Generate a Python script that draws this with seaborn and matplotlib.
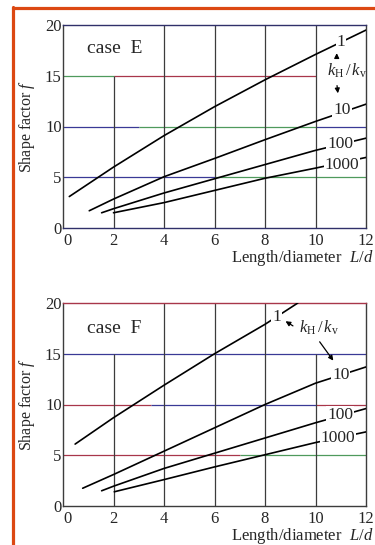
import numpy as np
import pandas as pd
import matplotlib
matplotlib.use("Agg")
import matplotlib.pyplot as plt
from matplotlib.lines import Line2D
import seaborn as sns

# ---------------- data ----------------
ratios = ["1", "10", "100", "1000"]

# case E
e1_x = [0.25, 2, 4, 6, 8, 10, 12]
e1_y = [3.1, 6.0, 9.1, 11.95, 14.6, 17.1, 19.5]
e10_x = [1.04, 2, 4, 6, 8, 10, 12]
e10_y = [1.7, 2.85, 5.05, 6.85, 8.7, 10.5, 12.2]
e100_x = [1.53, 2, 4, 6, 8, 10, 12]
e100_y = [1.5, 1.9, 3.45, 4.85, 6.25, 7.65, 8.85]
e1000_x = [2.0, 4, 6, 8, 10, 12]
e1000_y = [1.5, 2.5, 3.7, 4.9, 5.9, 6.95]

# case F
f1_x = [0.48, 2, 4, 6, 8, 9.3]
f1_y = [6.1, 8.7, 11.9, 15.0, 17.9, 20.0]
f10_x = [0.78, 2, 4, 6, 8, 10, 12]
f10_y = [1.75, 3.1, 5.4, 7.7, 10.0, 12.1, 13.7]
f100_x = [1.53, 2, 4, 6, 8, 10, 12]
f100_y = [1.5, 1.95, 3.7, 5.2, 6.7, 8.2, 9.6]
f1000_x = [2.03, 4, 6, 8, 10, 12]
f1000_y = [1.4, 2.6, 3.85, 5.05, 6.25, 7.3]

x_ticks = [0, 2, 4, 6, 8, 10, 12]
y_ticks = [0, 5, 10, 15, 20]

# ---------------- style ----------------
sns.set_style("white")
plt.rcParams["font.family"] = ["Liberation Serif", "DejaVu Serif"]
plt.rcParams["mathtext.fontset"] = "custom"
plt.rcParams["mathtext.rm"] = "Liberation Serif"
plt.rcParams["mathtext.it"] = "Liberation Serif:italic"

GRID = "#3c3c3c"
GREEN = "#4f9a5c"
RED = "#a8364a"
BLUE = "#3a3a96"
NAVY = "#30306a"
ORANGE = "#dc4812"


def build(series):
    rows = []
    for name, xs, ys in series:
        for xv, yv in zip(xs, ys):
            rows.append({"L": xv, "f": yv, "ratio": name})
    return pd.DataFrame(rows)


dfE = build([("1", e1_x, e1_y), ("10", e10_x, e10_y),
             ("100", e100_x, e100_y), ("1000", e1000_x, e1000_y)])
dfF = build([("1", f1_x, f1_y), ("10", f10_x, f10_y),
             ("100", f100_x, f100_y), ("1000", f1000_x, f1000_y)])

fig = plt.figure(figsize=(3.75, 5.45), dpi=100)
W, H = 375.0, 545.0
axE = fig.add_axes([63 / W, (H - 228) / H, 303 / W, 203 / H])
axF = fig.add_axes([63 / W, (H - 506) / H, 303 / W, 203 / H])


def setup(ax, hsegs, vsegs, top_col, bot_col):
    ax.set_xlim(0, 12)
    ax.set_ylim(0, 20)
    ax.set_xticks(x_ticks)
    ax.set_yticks(y_ticks)
    ax.tick_params(length=0, labelsize=12, pad=3.5)
    ax.tick_params(axis="y", pad=1.0)
    for yv, x0, x1, c in hsegs:
        ax.hlines(yv, x0, x1, colors=c, lw=0.9, zorder=1)
    for xv, y0, y1 in vsegs:
        ax.vlines(xv, y0, y1, colors=GRID, lw=0.9, zorder=1)
    for s in ax.spines.values():
        s.set_linewidth(1.0)
        s.set_color(GRID)
    ax.spines["top"].set_color(top_col)
    ax.spines["bottom"].set_color(bot_col)
    lbls = ax.get_xticklabels()
    lbls[0].set_horizontalalignment("left")


setup(axE,
      [(15, 0, 2, GREEN), (15, 2, 10, RED),
       (10, 0, 3, BLUE), (10, 3, 10, GREEN), (10, 10, 12, BLUE),
       (5, 0, 6, BLUE), (5, 6, 12, GREEN)],
      [(2, 0, 15), (4, 0, 20), (6, 0, 20), (8, 0, 20), (10, 0, 20)],
      NAVY, NAVY)
setup(axF,
      [(15, 0, 12, BLUE),
       (10, 0, 3.5, RED), (10, 3.5, 10, BLUE), (10, 10, 12, RED),
       (5, 0, 7, RED), (5, 7, 12, GREEN)],
      [(2, 0, 15), (4, 0, 20), (6, 0, 20), (8, 0, 20), (10, 0, 15)],
      RED, GRID)

for ax, df in [(axE, dfE), (axF, dfF)]:
    sns.lineplot(data=df, x="L", y="f", hue="ratio", hue_order=ratios,
                 palette=["black"] * 4, estimator=None, sort=False,
                 legend=False, linewidth=1.2, ax=ax, zorder=3)
    ax.set_xlabel("")
    ax.set_ylabel("")

box = dict(facecolor="white", edgecolor="none", pad=0.6)
lab_kw = dict(fontsize=12.5, ha="center", va="center", zorder=5, bbox=box)

# case E labels
axE.text(0.95, 17.7, "case  E", fontsize=14, ha="left", va="center")
axE.text(11.0, 18.3, "1", **lab_kw)
axE.text(11.05, 11.6, "10", **lab_kw)
axE.text(10.97, 8.25, "100", **lab_kw)
axE.text(11.04, 6.25, "1000", **lab_kw)
axE.text(11.25, 15.5, r"$k_{\rm H}\,/\,k_{\rm v}$", fontsize=12,
         ha="center", va="center", zorder=5)
arrow = dict(arrowstyle="-|>", color="black", lw=0.9, mutation_scale=7)
axE.annotate("", xy=(10.84, 17.5), xytext=(10.84, 16.5), arrowprops=arrow)
axE.annotate("", xy=(10.9, 13.0), xytext=(10.84, 14.3), arrowprops=arrow)

# case F labels
axF.text(0.95, 17.5, "case  F", fontsize=14, ha="left", va="center")
axF.text(8.45, 18.6, "1", **lab_kw)
axF.text(11.0, 12.9, "10", **lab_kw)
axF.text(10.97, 9.0, "100", **lab_kw)
axF.text(10.9, 6.7, "1000", **lab_kw)
axF.text(10.15, 17.6, r"$k_{\rm H}\,/\,k_{\rm v}$", fontsize=12,
         ha="center", va="center", zorder=5)
axF.annotate("", xy=(8.72, 18.35), xytext=(9.2, 17.6), arrowprops=arrow)
axF.annotate("", xy=(10.77, 14.1), xytext=(10.1, 16.4), arrowprops=arrow)

# axis labels
for ytop, ybot in [(25, 228), (303, 506)]:
    fig.text(27 / W, (H - (ytop + ybot) / 2) / H, r"Shape factor $f$",
             rotation=90, fontsize=11.5, ha="center", va="center")
    fig.text(373 / W, (H - (ybot + 30)) / H, r"Length/diameter  $L/d$",
             fontsize=12, ha="right", va="center")

# orange frame
fig.add_artist(Line2D([13.5 / W, 13.5 / W], [0, (H - 6.5) / H],
                      transform=fig.transFigure, color=ORANGE, lw=2.3))
fig.add_artist(Line2D([12.5 / W, 1.0], [(H - 7.5) / H, (H - 7.5) / H],
                      transform=fig.transFigure, color=ORANGE, lw=2.3))

fig.savefig("out.png", dpi=100)
